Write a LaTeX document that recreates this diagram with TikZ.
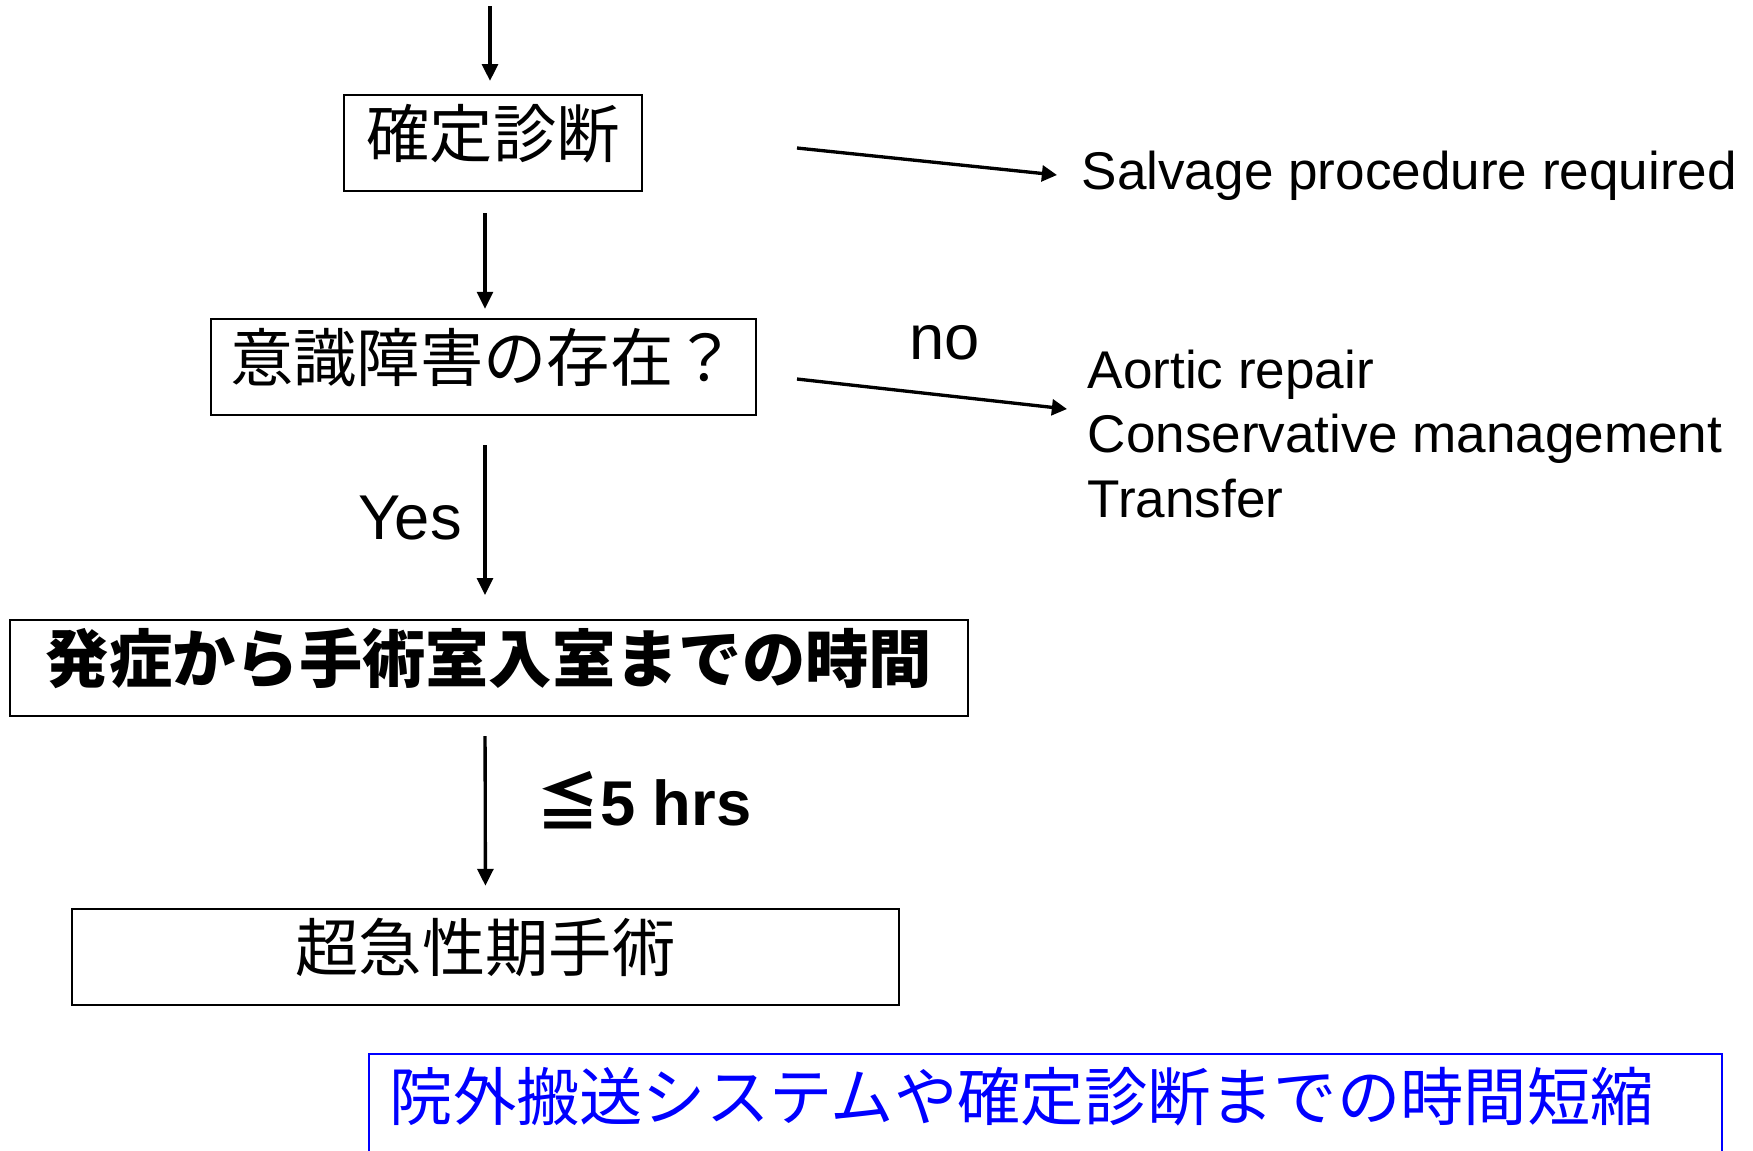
\documentclass[tikz,border=0pt]{standalone}
\usepackage{fontspec}
\setmainfont{Liberation Sans}
\newfontfamily\jp{Noto Sans CJK JP}
\usetikzlibrary{arrows.meta}
\newcommand{\upjp}[1]{\raisebox{2.6pt}[\height][\depth]{#1}}
\begin{document}
\begin{tikzpicture}[x=0.01cm,y=-0.01cm,
  box/.style={draw, line width=0.6pt, inner sep=0pt, minimum height=96*0.2845pt, font=\jp\fontsize{18}{20}\selectfont},
  varr/.style={line width=0.95pt, -{Triangle[length=4.8pt,width=4.5pt]}},
  harr/.style={line width=0.95pt, -{Triangle[length=4.3pt,width=4.5pt]}},
  lbl/.style={inner sep=0pt, font=\fontsize{18}{20}\selectfont},
  en/.style={inner sep=0pt, align=left, font=\fontsize{15.1}{18.2}\selectfont}]
\path[use as bounding box] (0,0) rectangle (1753,1150);
% boxes
\node[box, minimum width=298*0.2845pt] (b1) at (493,143) {\upjp{確定診断}};
\node[box, minimum width=545*0.2845pt] (b2) at (483.5,367) {\upjp{意識障害の存在？}};
\node[box, minimum width=958*0.2845pt, font=\jp\bfseries\fontsize{18}{20}\selectfont] (b3) at (489,668) {\upjp{発症から手術室入室までの時間}};
\node[box, minimum width=827*0.2845pt] (b4) at (485.5,957) {\upjp{超急性期手術}};
% top arrow
\coordinate (top) at (490,6);
\draw[varr, shorten >=3.7pt] (top) -- (top |- b1.north);
% vertical arrows
\draw[varr, shorten <=6pt, shorten >=2.6pt] (b1.south -| 485,0) -- (b2.north -| 485,0);
\draw[varr, shorten <=8.3pt, shorten >=6.8pt] (b2.south -| 485,0) -- (b3.north -| 485,0);
\draw[varr, shorten <=5.4pt, shorten >=6.3pt] (b3.south -| 485,0) -- (b4.north);
% labels
\node[lbl] (yes) at (410,518) {Yes};
\node[lbl, anchor=west, font=\bfseries\fontsize{18}{20}\selectfont] (hrs) at (536,800) {{\jp ≦}5 hrs};
\node[lbl] (no) at (945,343) {no};
% right side
\node[en, anchor=west] (salv) at (1081,176) {Salvage procedure required};
\node[en, anchor=west] (opts) at (1087,434) {Aortic repair\\Conservative management\\Transfer};
\coordinate (s1) at (797,148);
\coordinate (e1) at (1057,175);
\coordinate (s2) at (797,379);
\coordinate (e2) at (1067,409);
\draw[harr] (s1) -- (e1);
\draw[harr] (s2) -- (e2);
% blue goal box
\begin{scope}
\clip (0,0) rectangle (1753,1150);
\node[anchor=west, inner sep=0pt, text=blue, font=\jp\fontsize{18}{20}\selectfont] (goal) at (389,1097) {院外搬送システムや確定診断までの時間短縮};
\draw[blue, line width=0.7pt] (369,1170) |- (1722,1054) -- (1722,1170);
\end{scope}
\end{tikzpicture}
\end{document}
